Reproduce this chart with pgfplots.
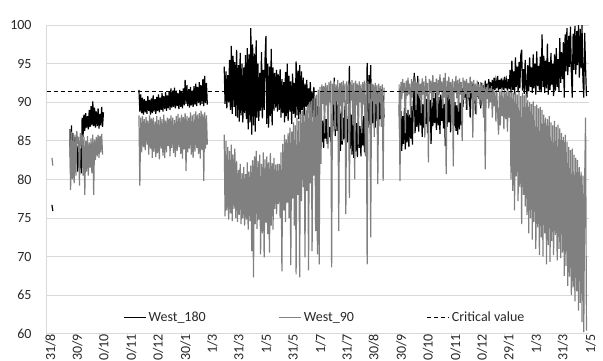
\documentclass[border=0pt]{standalone}
\usepackage{fontspec}
\setmainfont{Carlito}
\usepackage{pgfplots}
\pgfplotsset{compat=1.18}
\definecolor{sgray}{RGB}{128,128,128}
\definecolor{gridc}{RGB}{217,217,217}
\definecolor{txtc}{RGB}{40,40,40}
\begin{document}
\begin{tikzpicture}[x=1pt,y=1pt]
\begin{axis}[
  at={(52.5,34)}, anchor=south west,
  scale only axis, width=542.5pt, height=308.7pt,
  xmin=0, xmax=611, ymin=60, ymax=100,
  axis lines*=left,
  axis line style={draw=gridc, line width=0.8pt},
  ymajorgrids, grid style={draw=gridc, line width=0.8pt},
  ytick={60,65,...,100},
  ytick style={draw=none},
  xtick={0,30,60,91,121,152,182,212,243,273,304,334,364,395,425,456,486,516,547,577,608},
  xticklabels={31/8,30/9,30/10,30/11,30/12,30/1,1/3,31/3,1/5,31/5,1/7,31/7,30/8,30/9,30/10,30/11,30/12,29/1,1/3,31/3,1/5},
  tick align=outside, major tick length=4pt,
  xtick style={draw=gridc, line width=0.8pt},
  /pgf/number format/assume math mode=true,
  tick label style={font=\fontsize{14}{17}\selectfont, text=txtc},
  yticklabel style={anchor=east, xshift=-7.5pt},
  xticklabel style={xshift=4pt, yshift=7pt, rotate=90, anchor=east},
  unbounded coords=jump,
  legend style={at={(axis description cs:0.513,0.052)}, anchor=center, draw=none, fill=none,
    font=\fontsize{14}{17}\selectfont, text=txtc,
    legend columns=3,
    /tikz/every odd column/.append style={column sep=0pt},
    /tikz/every even column/.append style={column sep=71pt}},
  legend image code/.code={\draw[#1] (0pt,0pt) -- (22pt,0pt);},
]
\addplot[black, line width=1.2pt] coordinates {
(6,76.7)(7,75.9)(8,nan)
(26,86.5)(27,81.5)(28,87.0)(29,82.0)(30,86.0)(31,81.0)(32,85.5)(33,82.5)(34,84.5)(35,81.0)(36,84.3)(37,81.5)(38,84.0)(39,80.8)(40,88.0)(41,85.5)(42,88.4)(43,86.3)(44,88.6)(45,86.7)(46,88.2)(47,86.5)(48,89.0)(49,86.8)(50,89.5)(51,87.0)(52,90.1)(53,86.9)(54,89.3)(55,86.7)(56,88.8)(57,86.9)(58,89.2)(59,86.6)(60,88.5)(61,87.0)(62,89.4)(63,86.8)(64,88.7)(65,nan)
(104,91.6)(105,88.8)(106,91.0)(107,88.6)(108,90.6)(109,88.4)(110,90.4)(111,88.7)(112,90.2)(113,88.5)(114,90.8)(115,88.9)(116,90.3)(117,88.4)(118,90.5)(119,88.6)(120,90.9)(121,88.8)(122,90.4)(123,88.5)(124,90.7)(125,88.9)(126,91.0)(127,88.7)(128,90.6)(129,89.0)(130,91.2)(131,88.8)(132,90.8)(133,89.1)(134,91.3)(135,88.9)(136,90.9)(137,89.2)(138,91.4)(139,89.0)(140,91.8)(141,89.3)(142,91.5)(143,89.4)(144,91.9)(145,89.2)(146,91.5)(147,89.5)(148,91.2)(149,89.1)(150,91.6)(151,89.4)(152,91.4)(153,89.2)(154,91.8)(155,89.6)(156,92.9)(157,89.8)(158,92.2)(159,89.5)(160,91.7)(161,89.3)(162,92.0)(163,89.6)(164,91.5)(165,89.4)(166,92.1)(167,89.7)(168,92.4)(169,89.5)(170,92.0)(171,89.9)(172,92.6)(173,89.6)(174,92.2)(175,89.8)(176,93.0)(177,89.5)(178,93.4)(179,89.9)(180,92.5)(181,89.7)(182,nan)
(200,94.6)(201,89.8)(202,94.0)(203,89.2)(204,93.5)(205,90.0)(206,95.5)(207,89.0)(208,97.3)(209,88.5)(210,96.0)(211,89.4)(212,95.2)(213,88.2)(214,96.8)(215,88.0)(216,94.8)(217,87.5)(218,96.4)(219,88.3)(220,95.0)(221,87.4)(222,94.5)(223,88.6)(224,96.1)(225,87.8)(226,97.0)(227,86.5)(228,96.2)(229,87.4)(230,99.6)(231,85.8)(232,97.5)(233,87.0)(234,96.3)(235,86.2)(236,98.0)(237,88.0)(238,95.0)(239,87.6)(240,93.8)(241,88.9)(242,96.5)(243,87.9)(244,94.2)(245,89.0)(246,95.6)(247,98.6)(248,87.2)(249,95.0)(250,86.7)(251,94.6)(252,88.2)(253,96.9)(254,87.0)(255,94.5)(256,88.9)(257,93.8)(258,89.3)(259,94.2)(260,88.8)(261,93.6)(262,89.0)(263,94.3)(264,88.0)(265,93.0)(266,88.6)(267,92.6)(268,87.4)(269,93.9)(270,88.2)(271,95.0)(272,87.6)(273,93.4)(274,88.8)(275,92.7)(276,87.2)(277,93.7)(278,88.5)(279,92.5)(280,88.0)(281,95.3)(282,88.3)(283,94.1)(284,87.8)(285,94.8)(286,88.4)(287,94.0)(288,89.0)(289,93.2)(290,88.2)(291,92.4)(292,89.4)(293,92.9)(294,88.6)(295,91.8)(296,89.8)(297,92.6)(298,88.9)(299,91.4)(300,88.1)(301,92.0)(302,87.2)(303,90.5)(304,86.0)(305,89.5)(306,85.0)(307,88.5)(308,84.3)(309,88.0)(310,84.8)(311,87.6)(312,84.1)(313,88.2)(314,85.3)(315,87.8)(316,84.6)(317,87.0)(318,85.5)(319,86.8)(320,84.9)(321,87.5)(322,85.8)(323,88.4)(324,93.2)(325,85.6)(326,91.0)(327,86.3)(328,89.7)(329,84.2)(330,88.6)(331,83.7)(332,89.2)(333,84.5)(334,88.0)(335,85.2)(336,89.5)(337,83.9)(338,87.8)(339,84.8)(340,88.9)(341,94.7)(342,84.0)(343,88.4)(344,83.2)(345,87.6)(346,82.8)(347,88.1)(348,83.6)(349,87.3)(350,82.9)(351,88.0)(352,84.1)(353,86.9)(354,83.0)(355,87.7)(356,84.4)(357,88.2)(358,83.5)(359,89.0)(360,85.6)(361,95.1)(362,86.7)(363,93.5)(364,87.1)(365,94.8)(366,86.9)(367,91.5)(368,87.3)(369,91.9)(370,86.7)(371,90.8)(372,87.6)(373,91.4)(374,86.9)(375,90.6)(376,87.8)(377,91.7)(378,87.2)(379,90.9)(380,88.0)(381,nan)
(397,89.7)(398,84.0)(399,88.9)(400,83.7)(401,88.2)(402,84.6)(403,89.3)(404,83.9)(405,88.6)(406,84.8)(407,89.0)(408,84.2)(409,88.4)(410,85.3)(411,89.5)(412,84.5)(413,90.0)(414,93.8)(415,86.0)(416,90.5)(417,86.8)(418,93.4)(419,86.2)(420,90.8)(421,87.0)(422,90.2)(423,85.5)(424,89.8)(425,86.7)(426,90.9)(427,87.2)(428,90.4)(429,86.0)(430,91.0)(431,87.5)(432,90.3)(433,84.6)(434,89.9)(435,86.9)(436,90.6)(437,87.3)(438,91.2)(439,86.4)(440,90.1)(441,87.0)(442,90.7)(443,85.9)(444,91.0)(445,87.6)(446,90.5)(447,86.6)(448,89.8)(449,84.3)(450,90.4)(451,86.8)(452,91.1)(453,87.4)(454,90.6)(455,86.1)(456,90.2)(457,87.7)(458,91.3)(459,86.9)(460,90.0)(461,86.3)(462,89.6)(463,85.8)(464,90.3)(465,86.5)(466,89.9)(467,87.0)(468,91.8)(469,89.4)(470,92.2)(471,90.6)(472,92.0)(473,89.0)(474,91.6)(475,90.8)(476,92.3)(477,88.0)(478,91.9)(479,90.5)(480,92.4)(481,90.9)(482,91.7)(483,88.5)(484,92.1)(485,90.7)(486,92.6)(487,90.4)(488,91.9)(489,89.2)(490,92.5)(491,90.8)(492,92.2)(493,91.0)(494,92.8)(495,90.6)(496,92.4)(497,91.2)(498,93.0)(499,90.9)(500,92.6)(501,91.3)(502,92.9)(503,91.0)(504,93.2)(505,91.6)(506,92.8)(507,91.8)(508,93.4)(509,91.5)(510,92.9)(511,91.7)(512,93.1)(513,91.9)(514,92.7)(515,91.6)(516,93.3)(517,91.8)(518,92.8)(519,91.5)(520,93.0)(521,91.7)(522,94.2)(523,91.2)(524,95.4)(525,91.6)(526,94.0)(527,91.0)(528,95.8)(529,92.0)(530,94.6)(531,91.3)(532,95.2)(533,91.8)(534,96.1)(535,96.8)(536,91.5)(537,94.3)(538,91.1)(539,95.5)(540,92.2)(541,90.6)(542,94.8)(543,91.4)(544,95.8)(545,92.0)(546,94.5)(547,91.2)(548,96.2)(549,91.8)(550,95.0)(551,91.0)(552,96.6)(553,92.1)(554,94.7)(555,91.5)(556,95.9)(557,91.3)(558,98.8)(559,92.0)(560,96.0)(561,91.2)(562,95.4)(563,91.8)(564,97.6)(565,91.0)(566,95.2)(567,91.6)(568,96.4)(569,92.3)(570,95.0)(571,90.8)(572,96.2)(573,91.5)(574,97.0)(575,92.0)(576,95.6)(577,91.4)(578,98.3)(579,92.5)(580,96.5)(581,93.0)(582,97.8)(583,90.6)(584,98.8)(585,94.0)(586,99.6)(587,93.5)(588,98.6)(589,94.6)(590,99.8)(591,93.8)(592,90.6)(593,98.9)(594,94.2)(595,99.9)(596,93.6)(597,99.2)(598,94.8)(599,100)(600,93.2)(601,99.5)(602,94.4)(603,100)(604,93.0)(605,90.6)(606,99.0)(607,94.5)(608,90.8)
};
\addlegendentry{West\_180}
\addplot[sgray, line width=1.2pt] coordinates {
(6,82.8)(7,81.8)(8,nan)
(26,86.5)(27,78.6)(28,86.2)(29,80.0)(30,86.0)(31,79.5)(32,85.8)(33,80.5)(34,86.3)(35,84.6)(36,85.5)(37,79.2)(38,86.0)(39,84.8)(40,85.8)(41,80.5)(42,85.5)(43,78.0)(44,85.0)(45,81.0)(46,85.6)(47,80.5)(48,84.8)(49,81.5)(50,85.3)(51,80.8)(52,85.8)(53,78.0)(54,85.2)(55,82.5)(56,85.5)(57,83.0)(58,85.8)(59,82.8)(60,85.6)(61,83.5)(62,85.9)(63,83.2)(64,nan)
(104,88.3)(105,79.2)(106,88.0)(107,83.5)(108,88.2)(109,84.2)(110,87.8)(111,83.8)(112,88.1)(113,84.5)(114,87.6)(115,83.2)(116,88.3)(117,84.0)(118,87.9)(119,82.8)(120,88.0)(121,83.6)(122,87.5)(123,82.9)(124,88.2)(125,83.4)(126,87.7)(127,82.6)(128,88.1)(129,84.0)(130,87.8)(131,83.1)(132,88.4)(133,82.8)(134,87.6)(135,83.5)(136,88.0)(137,84.3)(138,87.9)(139,83.0)(140,88.3)(141,84.1)(142,88.0)(143,83.4)(144,87.7)(145,82.9)(146,88.2)(147,83.7)(148,88.5)(149,84.2)(150,88.0)(151,83.3)(152,88.4)(153,82.7)(154,88.1)(155,83.9)(156,88.6)(157,81.1)(158,88.2)(159,83.5)(160,88.0)(161,84.0)(162,88.7)(163,83.2)(164,88.3)(165,82.8)(166,88.5)(167,83.6)(168,88.8)(169,84.1)(170,88.4)(171,83.3)(172,88.6)(173,82.7)(174,88.9)(175,83.8)(176,88.5)(177,79.8)(178,88.7)(179,84.0)(180,88.3)(181,84.5)(182,nan)
(200,85.8)(201,75.2)(202,85.0)(203,76.0)(204,84.2)(205,74.8)(206,83.7)(207,75.6)(208,84.5)(209,74.6)(210,83.2)(211,76.2)(212,84.0)(213,75.0)(214,82.4)(215,74.5)(216,81.2)(217,75.4)(218,82.0)(219,74.2)(220,80.8)(221,75.0)(222,81.6)(223,74.0)(224,80.7)(225,74.8)(226,82.2)(227,73.5)(228,81.0)(229,74.6)(230,81.8)(231,70.7)(232,82.5)(233,67.3)(234,83.0)(235,74.2)(236,83.7)(237,73.6)(238,82.4)(239,74.8)(240,83.2)(241,70.3)(242,82.0)(243,73.0)(244,83.5)(245,69.9)(246,82.6)(247,74.4)(248,83.0)(249,72.9)(250,82.2)(251,70.5)(252,83.4)(253,74.0)(254,82.1)(255,73.5)(256,82.8)(257,76.2)(258,81.9)(259,75.5)(260,82.0)(261,76.8)(262,82.0)(263,75.0)(264,83.5)(265,68.1)(266,84.6)(267,76.0)(268,85.8)(269,74.5)(270,85.2)(271,77.0)(272,86.0)(273,75.0)(274,86.7)(275,68.9)(276,86.2)(277,77.5)(278,87.4)(279,74.0)(280,87.0)(281,67.7)(282,88.0)(283,78.0)(284,87.6)(285,67.3)(286,88.5)(287,77.2)(288,88.9)(289,79.0)(290,88.4)(291,69.9)(292,89.2)(293,78.5)(294,89.6)(295,68.2)(296,90.0)(297,79.5)(298,90.2)(299,70.7)(300,90.5)(301,80.5)(302,90.8)(303,73.3)(304,91.0)(305,70.3)(306,91.6)(307,69.0)(308,92.0)(309,82.0)(310,92.3)(311,89.8)(312,92.1)(313,86.0)(314,92.5)(315,89.6)(316,92.2)(317,84.0)(318,92.6)(319,90.0)(320,92.8)(321,68.6)(322,92.4)(323,89.7)(324,92.7)(325,86.5)(326,92.3)(327,90.1)(328,92.9)(329,73.3)(330,92.5)(331,89.5)(332,92.6)(333,85.0)(334,92.8)(335,90.0)(336,92.4)(337,75.5)(338,92.7)(339,89.8)(340,92.3)(341,77.6)(342,92.6)(343,90.2)(344,92.9)(345,87.0)(346,92.5)(347,80.0)(348,92.8)(349,89.6)(350,92.4)(351,84.5)(352,92.7)(353,90.0)(354,92.3)(355,86.0)(356,92.6)(357,89.7)(358,92.8)(359,83.0)(360,92.5)(361,69.0)(362,92.7)(363,89.9)(364,92.4)(365,72.5)(366,92.6)(367,90.1)(368,92.3)(369,85.5)(370,92.5)(371,89.8)(372,92.2)(373,79.4)(374,92.4)(375,90.0)(376,92.1)(377,86.8)(378,92.3)(379,79.8)(380,91.9)(381,nan)
(397,92.3)(398,79.8)(399,92.6)(400,90.4)(401,93.0)(402,91.2)(403,92.5)(404,86.0)(405,92.8)(406,90.8)(407,93.2)(408,91.0)(409,92.4)(410,88.0)(411,93.0)(412,90.6)(413,92.7)(414,91.4)(415,93.3)(416,89.0)(417,92.6)(418,91.1)(419,93.0)(420,90.5)(421,92.4)(422,88.6)(423,93.1)(424,91.0)(425,92.7)(426,85.4)(427,93.4)(428,90.8)(429,92.5)(430,82.2)(431,93.0)(432,91.2)(433,92.8)(434,89.5)(435,93.5)(436,90.7)(437,92.6)(438,91.3)(439,93.1)(440,88.0)(441,92.9)(442,90.9)(443,93.6)(444,91.4)(445,92.7)(446,89.2)(447,93.2)(448,90.6)(449,93.8)(450,80.7)(451,92.8)(452,91.0)(453,93.3)(454,90.4)(455,92.6)(456,87.5)(457,93.0)(458,81.7)(459,92.7)(460,91.2)(461,93.4)(462,90.5)(463,92.9)(464,88.8)(465,93.1)(466,91.0)(467,92.6)(468,85.0)(469,93.2)(470,90.3)(471,92.8)(472,91.1)(473,93.0)(474,89.0)(475,92.5)(476,90.6)(477,93.3)(478,91.2)(479,92.7)(480,85.4)(481,92.9)(482,90.2)(483,92.4)(484,88.4)(485,92.8)(486,90.8)(487,92.3)(488,89.6)(489,92.6)(490,90.1)(491,92.2)(492,88.0)(493,92.5)(494,81.3)(495,92.0)(496,90.4)(497,92.3)(498,89.2)(499,91.8)(500,90.0)(501,92.1)(502,88.0)(503,91.7)(504,89.5)(505,91.5)(506,87.5)(507,91.6)(508,88.4)(509,85.8)(510,91.4)(511,87.0)(512,91.5)(513,88.2)(514,91.3)(515,86.5)(516,91.6)(517,87.8)(518,91.4)(519,86.2)(520,91.5)(521,88.0)(522,91.3)(523,80.0)(524,91.5)(525,78.5)(526,91.2)(527,76.0)(528,91.4)(529,80.4)(530,91.0)(531,77.2)(532,91.3)(533,79.0)(534,90.8)(535,74.2)(536,91.2)(537,78.0)(538,90.9)(539,76.5)(540,91.1)(541,75.4)(542,90.3)(543,73.0)(544,90.0)(545,75.0)(546,89.8)(547,72.2)(548,90.1)(549,74.5)(550,89.5)(551,71.0)(552,89.7)(553,73.8)(554,89.2)(555,70.2)(556,89.4)(557,72.5)(558,89.0)(559,70.0)(560,88.4)(561,73.0)(562,88.0)(563,69.0)(564,87.8)(565,71.5)(566,88.2)(567,69.3)(568,87.4)(569,72.0)(570,87.0)(571,70.2)(572,87.6)(573,72.8)(574,86.8)(575,69.5)(576,87.1)(577,71.0)(578,86.6)(579,69.8)(580,86.0)(581,70.5)(582,85.5)(583,67.5)(584,85.8)(585,68.8)(586,84.9)(587,66.2)(588,84.2)(589,67.4)(590,83.8)(591,65.0)(592,84.0)(593,66.0)(594,83.2)(595,64.2)(596,82.8)(597,65.5)(598,82.5)(599,63.0)(600,81.6)(601,64.0)(602,81.0)(603,61.5)(604,80.5)(605,60.2)(606,80.0)(607,88.0)(608,60.4)
};
\addlegendentry{West\_90}
\addplot[black, line width=0.8pt, dash pattern=on 4pt off 3pt] coordinates {(0,91.4)(611,91.4)};
\addlegendentry{Critical value}
\end{axis}
\pgfresetboundingbox
\useasboundingbox (0,0) rectangle (603,360);
\end{tikzpicture}
\end{document}
